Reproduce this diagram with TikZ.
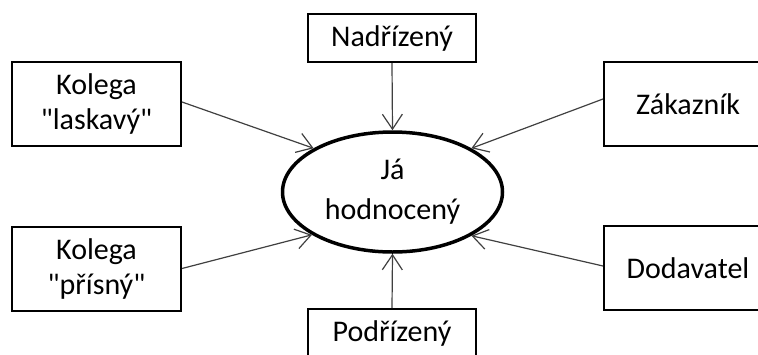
\documentclass[tikz,border=0pt]{standalone}
\usepackage{fontspec}
\setmainfont[Ligatures=TeXOff]{Carlito}
\usetikzlibrary{shapes.geometric,arrows.meta}
\tikzset{
  box/.style={draw=black,line width=2pt,rectangle,inner sep=0pt,align=center,
    minimum width=168pt,font=\fontsize{30}{35}\selectfont},
  tall/.style={box,minimum height=84pt},
  short/.style={box,minimum height=48pt},
  me/.style={draw=black,line width=3.5pt,ellipse,inner sep=0pt,align=center,
    minimum width=220pt,minimum height=120pt,font=\fontsize{30}{40}\selectfont},
  conn/.style={draw=black!75,line width=1.2pt,-{Straight Barb[length=15pt,width=20pt]}}
}
\begin{document}
\begin{tikzpicture}[x=1pt,y=-1pt]
\useasboundingbox (0,0) rectangle (758,354);
\node[me] (ja) at (392.5,192) {Já\\hodnocený};
\node[short] (nad) at (392,38) {Nadřízený};
\node[short] (pod) at (392,333) {Podřízený};
\node[tall,minimum width=169pt] (kl) at (96.5,104) {Kolega\\"laskavý"};
\node[tall,minimum width=169pt] (kp) at (96.5,268.5) {Kolega\\"přísný"};
\node[tall] (zak) at (688,104) {Zákazník};
\node[tall] (dod) at (688,268) {Dodavatel};
\draw[conn] (nad.south) -- (ja.north);
\draw[conn] (pod.north) -- (ja.south);
\draw[conn] ([yshift=2pt]kl.east) -- (ja.151);
\draw[conn] ([yshift=5pt]zak.west) -- (ja.29.4);
\draw[conn] (kp.east) -- (ja.208.8);
\draw[conn] ([yshift=2pt]dod.west) -- (ja.331.5);
\end{tikzpicture}
\end{document}
